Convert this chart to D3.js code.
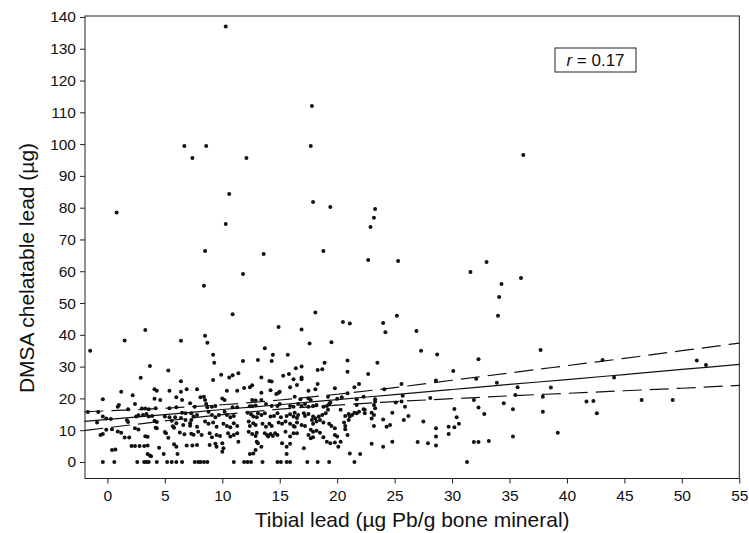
<!DOCTYPE html>
<html>
<head>
<meta charset="utf-8">
<script src="https://cdn.jsdelivr.net/npm/d3@7"></script>
<style>
  html, body { margin: 0; padding: 0; background: #fff; }
  svg { display: block; }
  text { font-family: "Liberation Sans", Arial, Helvetica, sans-serif; fill: #111; }
</style>
</head>
<body>
<div id="chart"></div>
<script>
// Tibial lead (x) vs DMSA chelatable lead (y)
const outliers = [
  [0.8,78.5],[-1.5,35],[10.3,137],[17.8,112],[6.7,99.4],[7.4,95.6],[8.6,99.4],[12.1,95.6],
  [17.7,99.4],[36.2,96.6],[10.6,84.3],[10.3,74.9],[17.9,81.8],[19.4,80.2],[23.3,79.6],
  [23.2,76.8],[22.9,73.9],[8.5,66.4],[18.8,66.4],[13.6,65.4],[11.8,59.1],[22.7,63.5],
  [25.3,63.2],[31.6,59.8],[33.0,62.9],[36.0,57.9],[8.4,55.4],[34.3,56],[34.1,51.9]
];
const lowTibia = [
  [3.3,41.5],[1.5,38.2],[6.4,38.1],[3.7,30.2],[5.3,28.8],[2.9,26.5],[6.4,25.4],[1.2,22.1],[2.2,21],
  [4.1,22.9],[4.3,22.4],[5.4,22.4],[6.4,22.1],[6.9,22.9],[-0.4,19.7],[2.4,18.2],[4.1,19.9],[4.6,19.5],
  [6,20.4],[6.5,19.5],[0.9,17.4],[1.0,17.9],[1.8,16.6],[3.0,16.8],[3.3,16.8],[3.6,16.6],[4.2,16.9],
  [5.4,16.9],[6.0,17.2],[-1.7,15.7],[-0.8,15.7],[6.5,15.5],[6.8,15.3],[-0.4,14.3],[-0.1,13.7],[0.3,13.5],
  [2.5,14.3],[2.7,14.7],[3.1,14.8],[3.4,15.1],[3.6,14.3],[3.9,14.5],[5,14.3],[5.4,14.1],[5.9,14.1],
  [6.4,13.8],[6.8,13.2],[7.3,13.2],[-0.9,12.4],[1.7,13.1],[1.8,12.6],[4.1,13],[4.3,12.6],[5.6,13],
  [6.0,12.2],[6.6,11.6],[7.2,11.4],[-0.1,10.1],[0.4,10.3],[0.9,9.6],[1.2,9.2],[2.4,10.6],[2.7,10.2],
  [4.2,10.8],[4.3,10.6],[5.7,11.2],[5.8,10.8],[-0.6,8.5],[-0.4,8.8],[1.5,7.7],[1.9,7.7],[3.3,8.1],
  [3.5,7.9],[5,9.4],[5.1,9],[5.3,7.6],[6.3,9.3],[6.7,8.7],[7.3,8.9],[7.5,8.6],[2.1,5],[2.4,5],[2.8,5],
  [3.2,5],[3.5,5.2],[4.5,4.5],[5.8,5.6],[6.0,4.8],[6.9,5.2],[7.4,5.2],[0.4,3.8],[0.7,3.9],[3.5,2.5],
  [3.7,2],[3.8,1.8],[4.9,2.5],[6.1,2.5]
];
const midTibia = [
  [10.9,46.5],[14.9,42.5],[8.5,39.7],[8.7,37.5],[9.2,33.7],[9.3,31.2],[13.7,35.8],[14.4,33.7],[14.3,31.8],
  [15.7,33.7],[11.8,31.8],[13.1,32.1],[16.4,29.5],[9.2,25.8],[9.9,27.4],[10.6,26.6],[10.9,27.3],[11.4,27.9],
  [13.4,26.6],[14.1,25.5],[14.3,25.3],[15.3,27.1],[15.8,27.7],[16.2,26],[7.8,22.9],[10.4,22.4],[11.3,22.4],
  [11.9,23.3],[12.4,23.5],[12.6,24.1],[13.4,21.8],[14.2,22.6],[14.7,21.4],[14.9,21.8],[15.0,22.1],[15.9,23.5],
  [16.5,24.2],[8.1,20.4],[8.4,20.5],[8.5,19.5],[10.0,20],[10.2,19.5],[12.6,19.5],[12.9,19.3],[13.4,19.5],
  [7.2,18.5],[7.6,17.4],[8.6,18.2],[8.7,17.2],[9.1,17.4],[9.4,17.6],[10.9,17.2],[11.3,17.2],[12.4,17.5],
  [12.6,17.5],[12.9,17.8],[13.8,18.2],[14.3,17.6],[14.8,17.6],[15.0,18.2],[15.9,17.6],[16.2,17.4],[16.6,18.2],
  [16.9,17.6],[7.3,15.3],[7.5,14.3],[7.8,14.8],[8.8,15.8],[9.1,14.8],[9.4,14.1],[9.7,14.8],[10.2,15.8],
  [10.4,14.8],[10.7,14.1],[11.0,14.5],[12.2,15.5],[12.5,15],[12.7,14.3],[13.0,14.1],[13.1,15.3],[13.4,14.8],
  [13.7,15.3],[14.2,14.3],[14.5,14.5],[14.8,15.3],[15.1,14.1],[15.6,14.5],[15.9,15],[16.2,14.3],[16.5,13.8],
  [7.2,12.2],[7.8,11.1],[8.5,12.7],[8.8,12],[9.2,12.4],[9.5,11.1],[10.1,12],[10.4,11.3],[10.7,10.9],
  [11.0,12.2],[11.3,11.3],[12.3,12.7],[12.4,11.3],[12.7,12.2],[12.9,11.6],[13.5,12],[13.8,11.1],[14.1,12],
  [14.3,11.3],[14.9,12.4],[15.2,12],[15.5,12.7],[15.9,12],[16.2,11.3],[16.5,12.4],[7.9,9.5],[8.2,8.5],
  [8.9,9],[9.1,7.8],[9.5,8.5],[9.8,8.2],[10.5,9],[10.7,8],[11,8.5],[11.3,9],[12.3,9.5],[12.6,8.8],[12.9,8.2],
  [13,9.2],[13.7,9],[13.9,8.5],[14.0,8],[14.2,8.8],[14.4,8.2],[14.6,9],[14.8,8.5],[15.5,9.5],[15.9,8],[16.2,9],
  [7.8,5.3],[8.9,5.3],[9.4,5.7],[9.5,4.8],[10,5.9],[10.1,4.3],[11.4,6.4],[13,6.4],[13.1,5.9],[13.4,4.8],
  [15.2,5.9],[15.6,4.8],[15.9,5.7],[12.9,3.8],[12.7,2.7],[12.4,2.5],[10,3.2],[15.6,2.5]
];
const upperMidTibia = [
  [18.1,47],[25.2,46],[16.9,41.7],[20.5,44],[21.1,43.6],[24.0,43.7],[24.2,40.8],[17.6,37.3],[19.5,37.7],
  [20.9,31.9],[18.9,31.2],[23.5,31.2],[16.9,30],[18.3,28.9],[18.7,29.2],[20.9,28.4],[22.7,27.7],[16.9,26.6],
  [16.9,26.0],[18.3,24.5],[17.5,22.4],[18.1,22.9],[19.8,23.2],[19.2,20.5],[20.9,21.6],[21.5,23.5],[21.9,24.5],
  [24.1,22.9],[25.6,24.5],[16.3,20.5],[16.8,19.7],[17.5,20],[17.7,19.5],[20.0,19.9],[20.4,20.4],[21.7,19.7],
  [22.3,20.5],[23.3,19.7],[23.3,19],[25.1,18.7],[25.6,19],[17.2,18.2],[17.5,17.4],[17.9,17.6],[18.2,17.9],
  [18.8,17.4],[19.1,17.6],[19.3,18.2],[19.4,18.7],[20.3,16.4],[21.7,17.9],[22.4,16.4],[23.2,17.9],[23.3,16.9],
  [16.3,15.5],[16.6,14.8],[17.1,15.3],[17.2,14.5],[17.5,15.1],[17.9,14.3],[18.1,13.7],[18.4,14.3],[18.7,14.8],
  [19.0,15.3],[19.2,16.4],[20.7,14.5],[21,15.1],[21.3,14.8],[21.5,15.5],[21.7,15.3],[21.9,15.8],[22.3,16.6],
  [22.4,15.3],[23,15.5],[23.2,14.8],[24.8,15.5],[25.8,13.2],[16.9,11.6],[17.2,11.3],[17.8,13.2],[17.9,12],
  [18.2,12.7],[18.5,13.2],[18.8,12.4],[19.3,12],[19.5,11.3],[19.8,10.6],[20.6,12.4],[20.7,11.3],[20.7,10.3],
  [21,13.2],[21.1,14.3],[23,13.7],[23.2,11.3],[24,13.4],[24.3,11.1],[24.6,11.6],[17.7,10.1],[17.9,9.5],
  [18.2,9.8],[18.5,9.2],[17.5,8.5],[17.7,7.5],[17.9,7.8],[18.8,7.8],[19.1,6.4],[19.4,5.9],[19.8,8.5],[20,8],
  [16.3,11.1],[16.5,9],[19.8,6.1],[20.1,4.8],[20.3,6.4],[20.9,8.5],[23,5.7],[24.0,4.8],[24.8,6.4],[17.1,4.3],
  [21.1,2.7],[22,2.5]
];
const highTibia = [
  [34.0,46],[26.9,41.2],[27.3,35],[28.7,33.8],[32.3,32.3],[30.1,28.6],[28.6,25.6],[32.1,26.2],[33.9,24.9],
  [25.7,20.8],[28.1,20.1],[31.9,19.5],[34.5,18.5],[25.9,17.4],[32.3,17.1],[30.2,16.7],[26.2,14.5],[30.4,14.1],
  [32.8,15.1],[27.5,12.7],[30.6,12],[29.7,11.1],[30.2,10.9],[28.6,10.6],[28.6,8],[29.7,8.8],[27,6.3],
  [27.9,5.9],[28.6,5.2],[31.9,6.3],[32.3,6.3],[33.2,6.6],[35.7,23.5],[35.5,21.1],[35.3,16.6],[35.3,8.0],
  [37.7,35.2],[43.1,32.1],[51.3,31.9],[52.1,30.5],[44.1,26.6],[38.6,23.4],[37.9,20.5],[41.7,19],[42.3,19.2],
  [46.5,19.5],[49.2,19.5],[37.9,15.8],[42.6,15.3],[39.2,9.2]
];
// subjects with zero chelatable lead
const zeroRowX = [-0.4,0.6,2.6,3.2,3.4,3.6,4.3,5.2,5.6,6.0,6.5,7.6,7.9,8.1,8.4,8.7,11.0,11.9,12.2,12.5,
  13.5,14.8,15.1,15.6,15.9,17.4,18.3,19.3,21.5,31.3];

// regression line and 95% band, read at these tibial lead values
const fitX     = [-2, 5, 10, 15, 20, 25, 30, 35, 40, 45, 50, 55];
const fitMid   = [12.8, 14.9, 16.5, 18.0, 19.6, 21.2, 22.8, 24.4, 25.9, 27.5, 29.1, 30.7];
const fitLower = [9.9, 12.9, 14.9, 16.6, 17.9, 19.0, 19.9, 20.8, 21.6, 22.4, 23.2, 24.1];
const fitUpper = [15.8, 16.9, 18.0, 19.5, 21.3, 23.4, 25.7, 28.0, 30.3, 32.6, 35.0, 37.4];

const xTicks = [0, 5, 10, 15, 20, 25, 30, 35, 40, 45, 50, 55];
const yTicks = [0, 10, 20, 30, 40, 50, 60, 70, 80, 90, 100, 110, 120, 130, 140];

const W = 749, H = 533;
const L = 85, R = 739.3, T = 16, B = 478.5;

const x = d3.scaleLinear().domain([-1.95, 55]).range([L, R]);
const y = d3.scaleLinear().domain([-5.2, 140.3]).range([B, T]);

const svg = d3.select('#chart').append('svg').attr('width', W).attr('height', H);

// frame
svg.append('rect').attr('x', L).attr('y', T).attr('width', R - L).attr('height', B - T)
  .attr('fill', 'none').attr('stroke', '#222').attr('stroke-width', 1);

// axes
const xAxis = svg.append('g').attr('transform', `translate(0,${B})`)
  .call(d3.axisBottom(x).tickValues(xTicks).tickSize(5).tickPadding(6));
const yAxis = svg.append('g').attr('transform', `translate(${L},0)`)
  .call(d3.axisLeft(y).tickValues(yTicks).tickSize(5).tickPadding(4));
[xAxis, yAxis].forEach(a => {
  a.select('.domain').remove();
  a.selectAll('line').attr('stroke', '#222');
  a.selectAll('text').style('font-size', '15.5px').attr('fill', '#111')
    .style('font-family', '"Liberation Sans", Arial, sans-serif');
});

// fit lines
const fitRows = fitX.map((v, i) => ({x: v, mid: fitMid[i], lo: fitLower[i], hi: fitUpper[i]}));
const mk = key => d3.line().x(d => x(d.x)).y(d => y(d[key])).curve(d3.curveMonotoneX);
const plot = svg.append('g');
plot.append('path').datum(fitRows).attr('d', mk('mid'))
  .attr('fill', 'none').attr('stroke', '#111').attr('stroke-width', 1.2);
['lo', 'hi'].forEach(k => {
  plot.append('path').datum(fitRows).attr('d', mk(k))
    .attr('fill', 'none').attr('stroke', '#111').attr('stroke-width', 1.2)
    .attr('stroke-dasharray', '19,8');
});

// points
const pts = [].concat(outliers, lowTibia, midTibia, upperMidTibia, highTibia, zeroRowX.map(v => [v, 0]));
plot.selectAll('circle').data(pts).join('circle')
  .attr('cx', d => x(d[0])).attr('cy', d => y(d[1])).attr('r', 2).attr('fill', '#111');

// r box
const rb = svg.append('g').attr('transform', 'translate(555,48)');
rb.append('rect').attr('width', 81).attr('height', 24).attr('fill', '#fff')
  .attr('stroke', '#222').attr('stroke-width', 1);
const rt = rb.append('text').attr('x', 40.5).attr('y', 18).attr('text-anchor', 'middle')
  .style('font-size', '17px');
rt.append('tspan').style('font-style', 'italic').text('r');
rt.append('tspan').text(' = 0.17');

// axis titles
svg.append('text').attr('x', (L + R) / 2).attr('y', 527).attr('text-anchor', 'middle')
  .style('font-size', '21px').text('Tibial lead (µg Pb/g bone mineral)');
svg.append('text').attr('transform', `translate(34,268) rotate(-90)`)
  .attr('text-anchor', 'middle').style('font-size', '21px').text('DMSA chelatable lead (µg)');
</script>
</body>
</html>
